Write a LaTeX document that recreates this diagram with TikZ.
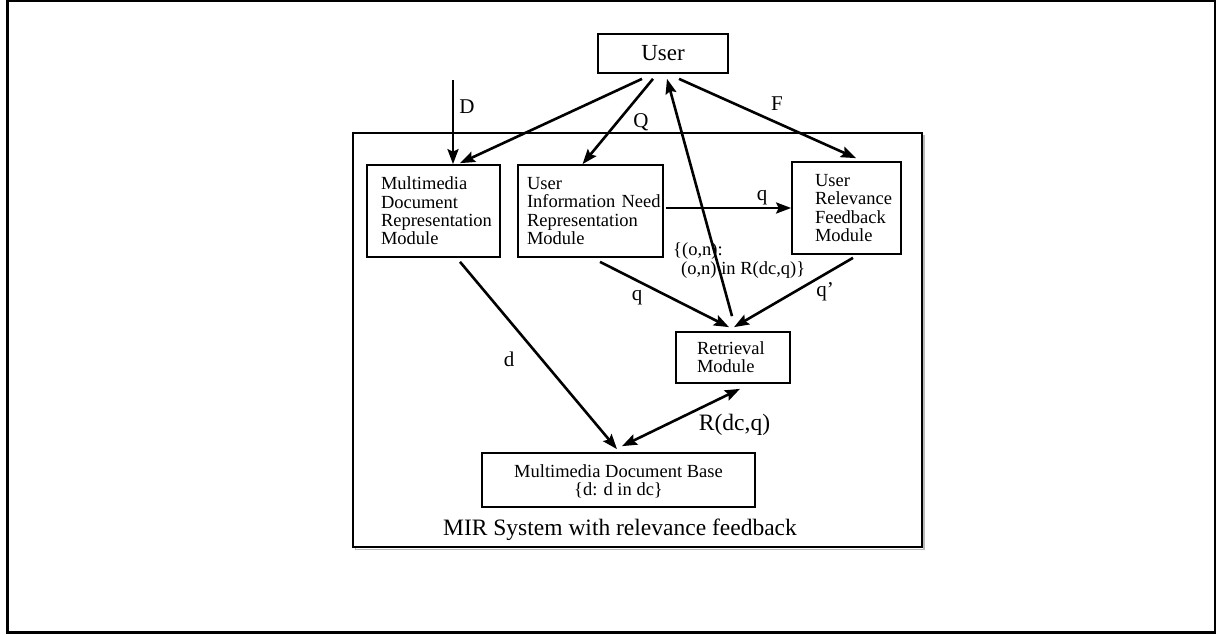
\documentclass[tikz,border=0pt]{standalone}
\usepackage{fontspec}
\setmainfont{Liberation Serif}
\usetikzlibrary{arrows.meta,calc}
\begin{document}
\begin{tikzpicture}[x=1pt,y=-1pt,
  >={Stealth[length=15pt,width=11pt,inset=2.5pt]},
  module/.style={draw, line width=1.7pt, inner ysep=0pt, align=left,
    font=\fontsize{18.5}{18.3}\selectfont},
  lbl/.style={font=\fontsize{21}{24}\selectfont, inner sep=0pt},
  biglbl/.style={font=\fontsize{23.5}{26}\selectfont, inner sep=0pt},
  smalllbl/.style={font=\fontsize{18.5}{19.5}\selectfont, inner sep=0pt, align=left},
  arr/.style={line width=2.6pt, ->},
  arrboth/.style={line width=2.6pt, <->},
]
\useasboundingbox (0,0) rectangle (1217,634);
% page frame
\draw[line width=2.4pt] (7.5,1) rectangle (1215,632.5);
% system boundary with a light shadow
\draw[line width=1.2pt, gray!55] (355.5,135.5) rectangle (924,549.5);
\draw[line width=1.4pt, fill=white] (353,133) rectangle (922,547);

% boxes
\node[draw, line width=1.7pt, minimum width=130pt, minimum height=39pt, inner sep=0pt,
  font=\fontsize{23}{26}\selectfont] (user) at (663,53.5) {User};
\node[module, text width=105pt, inner xsep=14pt, minimum height=92pt] (mdrm) at (433.5,211)
  {Multimedia\\Document\\Representation\\Module};
\node[module, text width=127pt, inner xsep=9pt, minimum height=92pt] (uinrm) at (590.5,211)
  {User\\\mbox{Information Need}\\Representation\\Module};
\node[module, text width=63pt, inner xsep=23pt, minimum height=92pt] (urfm) at (846.5,208)
  {User\\Relevance\\Feedback\\Module};
\node[module, text width=72pt, inner xsep=21pt, minimum height=51pt] (ret) at (733,357.5)
  {Retrieval\\Module};
\node[draw, line width=1.7pt, minimum width=273pt, minimum height=54pt, inner sep=0pt,
  align=center, text depth=0pt, font=\fontsize{18.5}{18}\selectfont] (mdb) at (618.5,480)
  {Multimedia Document Base\\\{d: d in dc\}};
\node[biglbl, anchor=base] (caption) at (620,535) {MIR System with relevance feedback};

% connectors
\coordinate (dsrc) at (453,80);
\draw[arr] (dsrc) -- ([xshift=19.5pt]mdrm.north);
\draw[arr] ([xshift=-21pt,yshift=-5pt]user.south) -- ([xshift=26.5pt,yshift=1pt]mdrm.north);
\draw[arr] ([xshift=-10pt,yshift=-5pt]user.south) -- ([xshift=-8pt]uinrm.north);
\draw[arr] ([xshift=16pt,yshift=-5pt]user.south) -- ([xshift=9.5pt,yshift=3pt]urfm.north);
\draw[arr] ([xshift=-1pt,yshift=15pt]ret.north) -- ([xshift=4pt,yshift=-5pt]user.south);
\draw[arr] ($(uinrm.east |- urfm.west)+(2,0)$) -- (urfm.west);
\draw[arr] ([xshift=9.5pt,yshift=-4pt]uinrm.south) -- ([xshift=-4pt,yshift=4pt]ret.north);
\draw[arr] ([xshift=6.5pt,yshift=-3pt]urfm.south) -- ([xshift=1pt,yshift=4pt]ret.north);
\draw[arr] ([xshift=26.5pt,yshift=-4pt]mdrm.south) -- ([xshift=-1.5pt,yshift=3pt]mdb.north);
\draw[arrboth] ([xshift=3.5pt,yshift=6pt]mdb.north) -- ([xshift=7pt,yshift=-5pt]ret.south);

% connector labels
\node[lbl] (lD) at (467,107) {D};
\node[lbl] (lQ) at (641,122) {Q};
\node[lbl] (lF) at (777,103.5) {F};
\node[lbl] (lq1) at (762,198) {q};
\node[lbl] (lq2) at (637,298) {q};
\node[lbl] (lq3) at (825,292) {q’};
\node[lbl] (ld) at (509,359.5) {d};
\node[biglbl] (lR) at (734.5,425) {R(dc,q)};
\node[smalllbl, anchor=north west] (lset) at (673,242)
  {\{(o,n):\\\hspace*{8pt}(o,n) in R(dc,q)\}};
\end{tikzpicture}
\end{document}
